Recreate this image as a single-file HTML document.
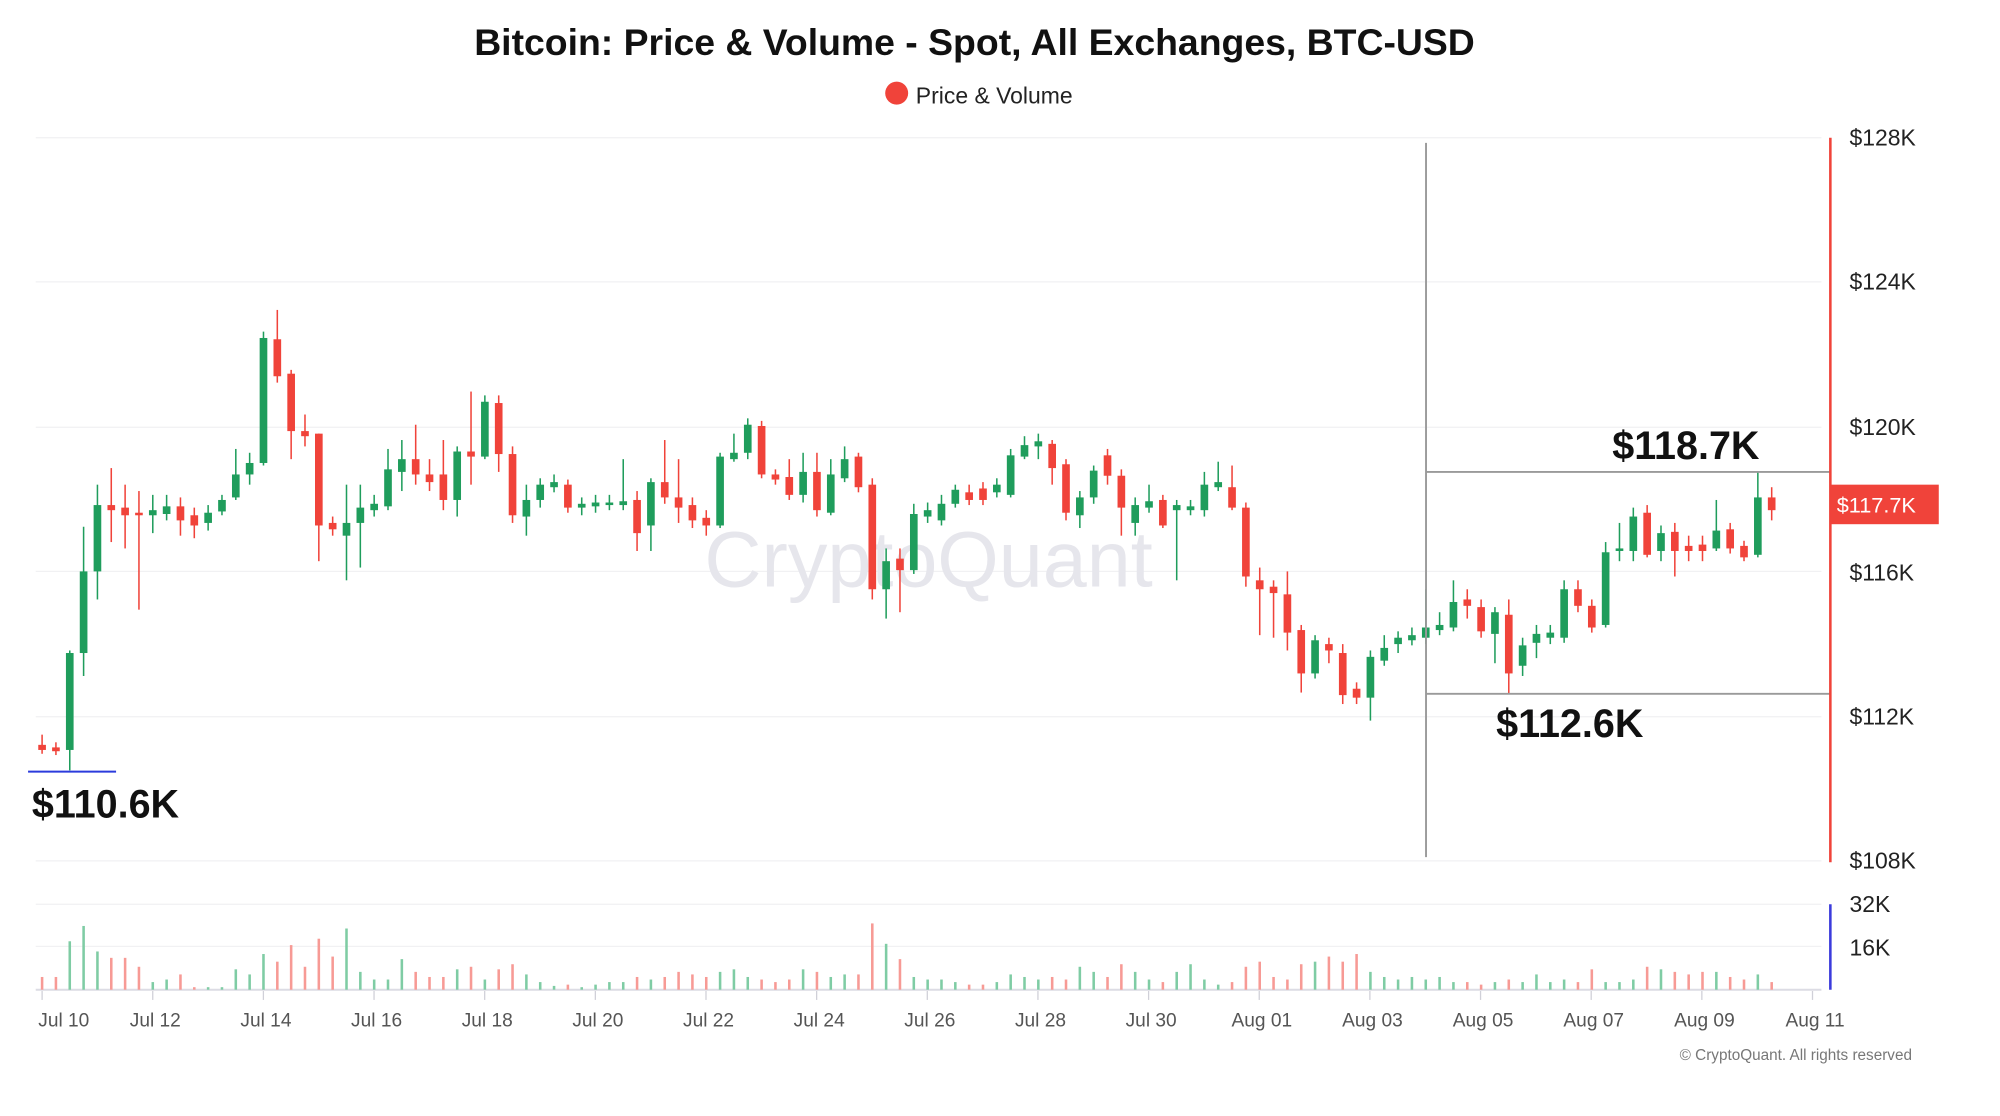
<!DOCTYPE html>
<html><head><meta charset="utf-8"><style>
html,body{margin:0;padding:0;background:#fff;}
svg{display:block;font-family:"Liberation Sans",sans-serif;}
</style></head><body>
<svg id="s" width="2000" height="1116" viewBox="0 0 1568 875" preserveAspectRatio="none" xmlns="http://www.w3.org/2000/svg">
<rect width="1568" height="875" fill="#fff"/>
<text x="764" y="43" text-anchor="middle" font-size="29.3" font-weight="bold" fill="#111">Bitcoin: Price &amp; Volume - Spot, All Exchanges, BTC-USD</text>
<circle cx="703" cy="73" r="9" fill="#f0433a"/>
<text x="718" y="81" font-size="18" fill="#222">Price &amp; Volume</text>
<g stroke="#f1f1f3" stroke-width="1">
<line x1="28" x2="1428" y1="108" y2="108"/><line x1="28" x2="1428" y1="221" y2="221"/>
<line x1="28" x2="1428" y1="335" y2="335"/><line x1="28" x2="1428" y1="448" y2="448"/>
<line x1="28" x2="1428" y1="562" y2="562"/><line x1="28" x2="1428" y1="675" y2="675"/>
<line x1="28" x2="1428" y1="709" y2="709"/><line x1="28" x2="1428" y1="742" y2="742"/>
</g>
<line x1="28" x2="1428" y1="776" y2="776" stroke="#dcdce4" stroke-width="1.5"/>
<text x="728" y="460" text-anchor="middle" font-size="62" fill="#e6e6ec">CryptoQuant</text>
<g id="c"></g>
<line x1="1118" x2="1118" y1="112" y2="672" stroke="#9a9a9a" stroke-width="1.5"/>
<line x1="1118" x2="1435" y1="370" y2="370" stroke="#9a9a9a" stroke-width="1.5"/>
<line x1="1118" x2="1435" y1="544" y2="544" stroke="#9a9a9a" stroke-width="1.5"/>
<line x1="22" x2="91" y1="605" y2="605" stroke="#2b3bdc" stroke-width="1.5"/>
<text x="1264" y="360" font-size="31" font-weight="bold" fill="#111">$118.7K</text>
<text x="1173" y="578" font-size="31" font-weight="bold" fill="#111">$112.6K</text>
<text x="25" y="641" font-size="31" font-weight="bold" fill="#111">$110.6K</text>
<line x1="1435" x2="1435" y1="108" y2="676" stroke="#f0433a" stroke-width="2"/>
<line x1="1435" x2="1435" y1="709" y2="776" stroke="#3b3bdc" stroke-width="2"/>
<rect x="1435" y="380" width="85" height="31" fill="#f0433a"/>
<text x="1440" y="402" font-size="17" fill="#fff">$117.7K</text>
<g font-size="18" fill="#222">
<text x="1450" y="114">$128K</text><text x="1450" y="227">$124K</text>
<text x="1450" y="341">$120K</text><text x="1450" y="455">$116K</text>
<text x="1450" y="568">$112K</text><text x="1450" y="681">$108K</text>
<text x="1450" y="715">32K</text><text x="1450" y="749">16K</text>
</g>
<g id="xt" font-size="15" fill="#555" text-anchor="middle"></g>
<text x="1499" y="831" font-size="12" fill="#777" text-anchor="end">© CryptoQuant. All rights reserved</text>
</svg>
<script>
var C=[['r',584,588,576,591],['r',586,589,582,592],['g',512,588,510,604],['g',448,512,413,530],['g',396,448,380,470],['r',396,400,367,425],['r',398,404,380,430],['r',402,404,385,478],['g',400,404,388,418],['g',397,403,388,408],['r',397,408,390,420],['r',404,412,398,422],['g',402,410,396,416],['g',392,401,388,404],['g',372,390,352,392],['g',363,372,355,380],['g',265,363,260,365],['r',266,295,243,300],['r',293,338,290,360],['r',338,342,325,350],['r',340,412,340,440],['r',410,415,405,420],['g',410,420,380,455],['g',398,410,380,445],['g',395,400,388,405],['g',368,397,352,400],['g',360,370,345,385],['r',360,372,333,380],['r',372,378,360,385],['r',372,392,345,400],['g',354,392,350,405],['r',354,358,307,380],['g',315,358,310,360],['r',316,356,310,370],['r',356,404,350,410],['g',392,405,380,420],['g',380,392,375,398],['g',378,382,372,386],['r',380,398,376,402],['g',395,398,390,404],['g',394,397,388,402],['g',394,396,388,400],['g',393,396,360,400],['r',392,418,385,432],['g',378,412,375,432],['r',378,390,345,395],['r',390,398,360,410],['r',396,408,390,414],['r',406,412,400,420],['g',358,412,355,414],['g',355,360,340,362],['g',333,355,328,360],['r',334,372,330,375],['r',372,376,368,380],['r',374,388,360,392],['g',370,388,355,394],['r',370,400,355,405],['g',372,402,360,404],['g',360,375,350,378],['r',358,382,355,386],['r',380,462,375,470],['g',440,462,430,485],['r',438,447,430,480],['g',403,447,395,450],['g',400,405,394,410],['g',395,408,388,412],['g',384,395,380,398],['r',386,392,380,396],['r',383,392,378,396],['g',380,386,375,390],['g',357,388,352,390],['g',349,358,342,360],['g',346,350,340,360],['r',348,367,345,380],['r',364,402,360,408],['g',390,404,385,414],['g',369,390,365,395],['r',357,373,352,380],['r',373,398,368,420],['g',396,410,390,420],['g',393,398,380,402],['r',392,412,388,414],['g',396,400,392,455],['g',397,400,392,404],['g',380,400,370,405],['g',378,382,362,385],['r',382,398,365,400],['r',398,452,394,460],['r',455,462,445,498],['r',460,465,455,500],['r',466,496,448,510],['r',494,528,490,543],['g',502,528,498,532],['r',505,510,500,520],['r',512,545,505,552],['r',540,547,535,552],['g',515,547,510,565],['g',508,518,498,522],['g',500,505,495,512],['g',498,502,492,506],['g',492,500,462,505],['g',490,494,480,498],['g',472,492,455,495],['r',470,475,462,485],['r',476,495,470,500],['g',480,497,476,520],['r',482,528,470,544],['g',506,522,500,530],['g',497,504,490,516],['g',496,500,490,505],['g',462,500,455,504],['r',462,475,455,480],['r',475,492,470,496],['g',433,490,425,492],['g',430,432,410,440],['g',405,432,398,440],['r',402,435,396,437],['g',418,432,412,440],['r',417,432,410,452],['r',428,432,420,440],['r',427,432,420,440],['g',416,430,392,432],['r',415,430,410,434],['r',428,437,424,440],['g',390,435,370,437],['r',390,400,382,408]];
var V=[10,10,38,50,30,25,25,18,6,8,12,2,2,2,16,12,28,22,35,18,40,26,48,14,8,8,24,14,10,10,16,18,8,16,20,12,6,3,4,2,4,6,6,10,8,10,14,12,10,14,16,10,8,6,8,16,14,10,12,12,52,36,24,10,8,8,6,4,4,6,12,10,8,10,8,18,14,10,20,14,8,6,14,20,8,4,6,18,22,10,8,20,22,26,22,28,14,10,8,10,8,10,6,6,4,6,8,6,12,6,8,6,16,6,6,8,18,16,14,12,14,14,10,8,12,6,4];
var ns="http://www.w3.org/2000/svg",g=document.getElementById('c');
function el(t,a){var e=document.createElementNS(ns,t);for(var k in a)e.setAttribute(k,a[k]);return e;}
var step=(1389-33)/(C.length-1);
for(var i=0;i<C.length;i++){var c=C[i],x=33+i*step,col=c[0]=='g'?'#1f9d5c':'#f0433a';
g.appendChild(el('line',{x1:x,x2:x,y1:c[3],y2:c[4],stroke:col,'stroke-width':1.2}));
var h=Math.max(c[2]-c[1],2);g.appendChild(el('rect',{x:x-3,y:c[1],width:6,height:h,fill:col}));
var v=V[i]||4;g.appendChild(el('rect',{x:x-1,y:776-v,width:2,height:v,fill:c[0]=='g'?'#7fcca4':'#f79a95'}));}
var L=['Jul 10','Jul 12','Jul 14','Jul 16','Jul 18','Jul 20','Jul 22','Jul 24','Jul 26','Jul 28','Jul 30','Aug 01','Aug 03','Aug 05','Aug 07','Aug 09','Aug 11'],xt=document.getElementById('xt');
for(var k=0;k<L.length;k++){var tx=33+k*86.75;xt.appendChild(el('line',{x1:tx,x2:tx,y1:777,y2:784,stroke:'#d0d0d8'}));
var t=el('text',{x:k==0?50:tx+2,y:805});t.textContent=L[k];xt.appendChild(t);}
</script>
</body></html>
